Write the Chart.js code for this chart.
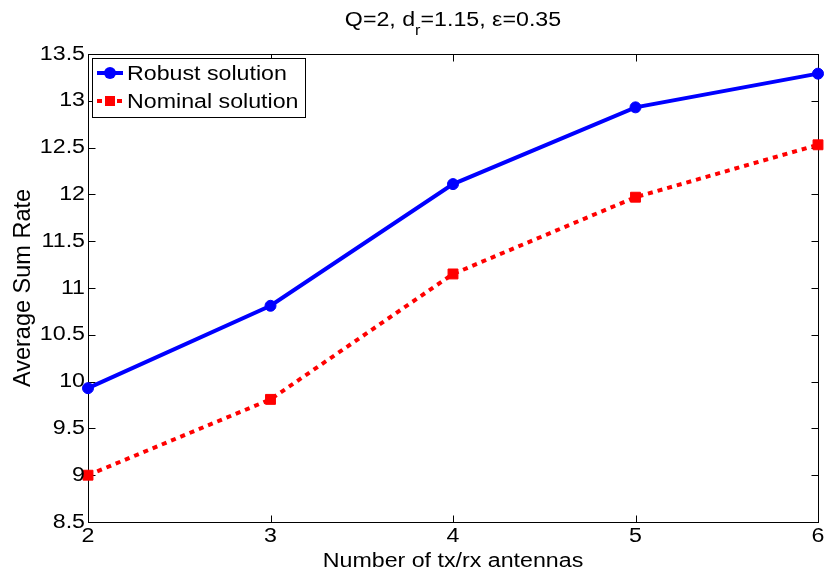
<!DOCTYPE html>
<html>
<head>
<meta charset="utf-8">
<script src="https://cdn.jsdelivr.net/npm/chart.js@4.4.1/dist/chart.umd.min.js"></script>
<style>
  html, body { margin: 0; padding: 0; background: #fff; }
  #wrap { width: 827px; height: 577px; }
</style>
</head>
<body>
<div id="wrap"><canvas id="c" width="827" height="577"></canvas></div>
<script>
// Number of tx/rx antennas
const antennas = [2, 3, 4, 5, 6];
// Average sum rate for each scheme
const robustRate  = [9.93, 10.81, 12.11, 12.93, 13.29];
const nominalRate = [9.00, 9.81, 11.15, 11.97, 12.53];
// Axis tick labels
const xTickLabels = ['2', '3', '4', '5', '6'];
const yTickLabels = ['8.5', '9', '9.5', '10', '10.5', '11', '11.5', '12', '12.5', '13', '13.5'];

const FAMILY = '"Liberation Sans", Arial, sans-serif';
const FONT = '20px ' + FAMILY;
const LEGEND_FONT = '20px ' + FAMILY;
const YTITLE_FONT = '23.5px ' + FAMILY;
const SUB_FONT = '14px ' + FAMILY;
const SX = 1.16; // horizontal widening of the lettering

function stretchedText(ctx, text, x, y, align, baseline) {
  ctx.save();
  ctx.translate(x, y);
  ctx.scale(SX, 1);
  ctx.textAlign = align;
  ctx.textBaseline = baseline;
  ctx.fillText(text, 0, 0);
  ctx.restore();
}

// Box axes with inward ticks, labels, title and legend
const matlabAxes = {
  id: 'matlabAxes',
  beforeDatasetsDraw(chart) {
    const { ctx, chartArea: a, scales: { x, y } } = chart;
    ctx.save();
    ctx.strokeStyle = '#000';
    ctx.lineWidth = 1;
    const L = Math.round(a.left) + 0.5, R = Math.round(a.right) + 0.5;
    const T = Math.round(a.top) + 0.5, B = Math.round(a.bottom) + 0.5;
    ctx.strokeRect(L, T, R - L, B - T);
    const tl = 7;
    ctx.beginPath();
    antennas.forEach(v => {
      const px = Math.round(x.getPixelForValue(v)) + 0.5;
      ctx.moveTo(px, B); ctx.lineTo(px, B - tl);
      ctx.moveTo(px, T); ctx.lineTo(px, T + tl);
    });
    yTickLabels.forEach(s => {
      const py = Math.round(y.getPixelForValue(parseFloat(s))) + 0.5;
      ctx.moveTo(L, py); ctx.lineTo(L + tl, py);
      ctx.moveTo(R, py); ctx.lineTo(R - tl, py);
    });
    ctx.stroke();
    ctx.restore();
  },
  afterDraw(chart) {
    const { ctx, chartArea: a, scales: { x, y } } = chart;
    ctx.save();
    ctx.fillStyle = '#000';
    ctx.font = FONT;
    // tick labels
    xTickLabels.forEach((s, i) => {
      stretchedText(ctx, s, x.getPixelForValue(antennas[i]), a.bottom + 4, 'center', 'top');
    });
    yTickLabels.forEach(s => {
      stretchedText(ctx, s, a.left - 3, y.getPixelForValue(parseFloat(s)), 'right', 'middle');
    });
    // axis titles
    stretchedText(ctx, 'Number of tx/rx antennas', (a.left + a.right) / 2, 567, 'center', 'alphabetic');
    ctx.save();
    ctx.translate(30, 288);
    ctx.rotate(-Math.PI / 2);
    ctx.font = YTITLE_FONT;
    ctx.textAlign = 'center';
    ctx.textBaseline = 'alphabetic';
    ctx.fillText('Average Sum Rate', 0, 0);
    ctx.restore();
    // title with subscript
    const p1 = 'Q=2, d', p2 = 'r', p3 = '=1.15, \u03b5=0.35';
    ctx.font = FONT; const w1 = ctx.measureText(p1).width * SX;
    ctx.font = SUB_FONT; const w2 = ctx.measureText(p2).width * SX;
    ctx.font = FONT; const w3 = ctx.measureText(p3).width * SX;
    let tx = (a.left + a.right) / 2 - (w1 + w2 + w3) / 2;
    const ty = 26;
    stretchedText(ctx, p1, tx, ty, 'left', 'alphabetic'); tx += w1;
    ctx.font = SUB_FONT;
    stretchedText(ctx, p2, tx, ty + 9, 'left', 'alphabetic'); tx += w2;
    ctx.font = FONT;
    stretchedText(ctx, p3, tx, ty, 'left', 'alphabetic');
    // legend
    const lx = 92.5, ly = 58.5, lw = 213, lh = 59;
    ctx.fillStyle = '#fff';
    ctx.fillRect(lx, ly, lw, lh);
    ctx.strokeStyle = '#000';
    ctx.lineWidth = 1;
    ctx.strokeRect(lx, ly, lw, lh);
    chart.data.datasets.forEach((ds, i) => {
      const cy = 73 + i * 28;
      ctx.strokeStyle = ds.borderColor;
      ctx.lineWidth = ds.borderWidth;
      ctx.setLineDash(ds.borderDash || []);
      ctx.beginPath(); ctx.moveTo(97, cy); ctx.lineTo(123, cy); ctx.stroke();
      ctx.setLineDash([]);
      ctx.fillStyle = ds.pointBackgroundColor;
      if (ds.pointStyle === 'rect') {
        ctx.fillRect(110 - 5, cy - 5, 10, 10);
      } else {
        ctx.beginPath(); ctx.arc(110, cy, 6, 0, Math.PI * 2); ctx.fill();
      }
      ctx.fillStyle = '#000';
      ctx.font = LEGEND_FONT;
      stretchedText(ctx, ds.label, 127, cy + 1, 'left', 'middle');
    });
    ctx.restore();
  }
};

new Chart(document.getElementById('c'), {
  type: 'line',
  data: {
    datasets: [
      {
        label: 'Robust solution',
        data: antennas.map((a, i) => ({ x: a, y: robustRate[i] })),
        borderColor: '#0000ff',
        backgroundColor: '#0000ff',
        pointBackgroundColor: '#0000ff',
        pointBorderColor: '#0000ff',
        borderWidth: 4,
        pointStyle: 'circle',
        pointRadius: 5.5,
        pointBorderWidth: 1,
        tension: 0
      },
      {
        label: 'Nominal solution',
        data: antennas.map((a, i) => ({ x: a, y: nominalRate[i] })),
        borderColor: '#ff0000',
        backgroundColor: '#ff0000',
        pointBackgroundColor: '#ff0000',
        pointBorderColor: '#ff0000',
        borderWidth: 4,
        borderDash: [5, 5],
        pointStyle: 'rect',
        pointRadius: 7,
        pointBorderWidth: 1,
        tension: 0
      }
    ]
  },
  options: {
    responsive: false,
    animation: false,
    clip: false,
    layout: { padding: { left: 88, right: 9, top: 54, bottom: 55 } },
    plugins: { legend: { display: false }, title: { display: false }, tooltip: { enabled: false } },
    scales: {
      x: {
        type: 'linear', min: 2, max: 6,
        ticks: { display: false, stepSize: 1 },
        grid: { display: false, drawTicks: false },
        border: { display: false },
        title: { display: false }
      },
      y: {
        type: 'linear', min: 8.5, max: 13.5,
        ticks: { display: false, stepSize: 0.5 },
        grid: { display: false, drawTicks: false },
        border: { display: false },
        title: { display: false }
      }
    }
  },
  plugins: [matlabAxes]
});
</script>
</body>
</html>
